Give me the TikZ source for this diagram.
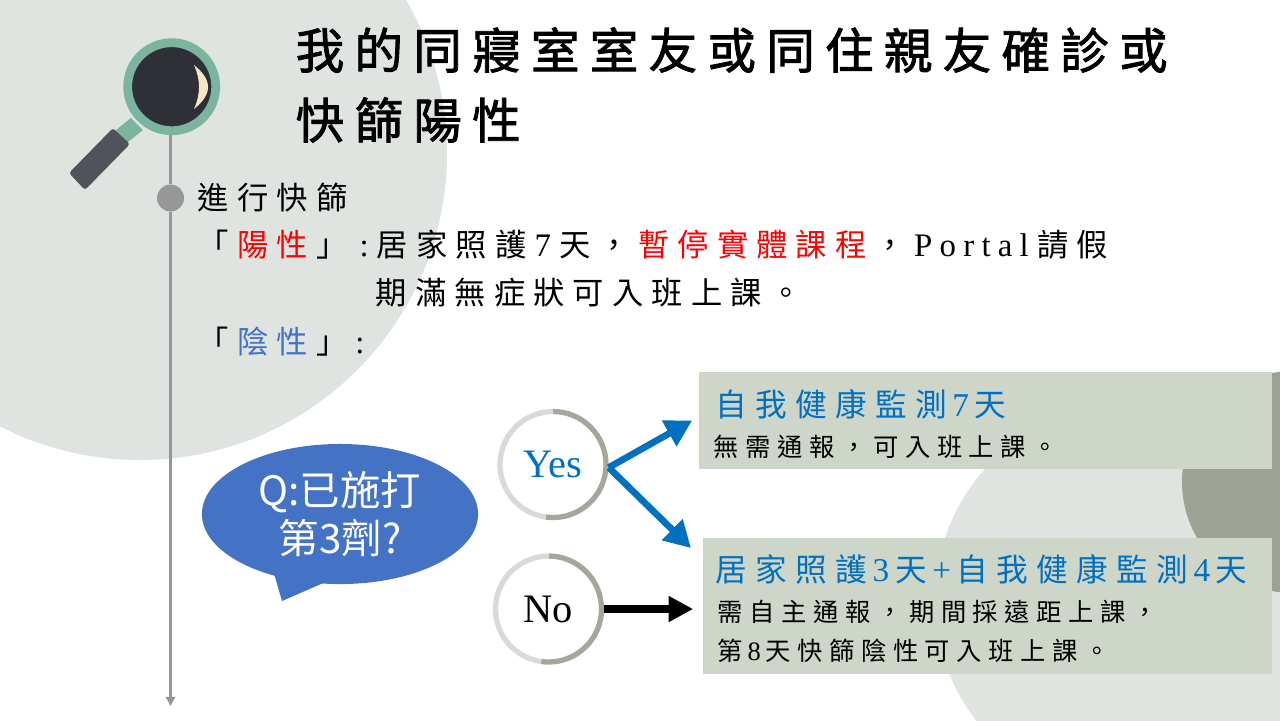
\documentclass[tikz,border=0pt]{standalone}
\usepackage{fontspec}
\usetikzlibrary{arrows.meta,shapes.geometric}
\setmainfont{Noto Sans CJK TC}
\newfontfamily\titlefont[LetterSpace=21.2,Kerning=Off,FakeBold=1.8]{Noto Sans CJK TC}
\newfontfamily\bodyfont[LetterSpace=26,Kerning=Off]{Noto Sans CJK TC}
\newfontfamily\latfont[LetterSpace=22,Scale=1.05]{Liberation Serif}
\newfontfamily\plainserif{Liberation Serif}
\newcommand{\lat}[1]{{\latfont #1}}
\newcommand{\kg}{\hspace{.26em}}
\newcommand{\hg}{\hspace{.18em}}
\definecolor{paleround}{HTML}{DFE4E0}
\definecolor{darkround}{HTML}{9DA294}
\definecolor{boxgreen}{HTML}{CDD6C8}
\definecolor{lensgreen}{HTML}{7BB5A0}
\definecolor{lensdark}{HTML}{2F2F38}
\definecolor{handlegrey}{HTML}{50535A}
\definecolor{cream}{HTML}{F5E6C4}
\definecolor{axisgrey}{HTML}{979797}
\definecolor{bubbleblue}{HTML}{4472C4}
\definecolor{headblue}{HTML}{0070C0}
\definecolor{ringlight}{HTML}{D9D9D9}
\definecolor{ringdark}{HTML}{A3A89D}
\tikzset{
	titleline/.style={anchor=west,inner sep=0pt,font=\titlefont\fontsize{13.8}{16}\selectfont},
	bodyline/.style={anchor=west,inner sep=0pt,font=\bodyfont\fontsize{8.9}{10}\selectfont},
	headline/.style={anchor=west,inner sep=0pt,text=headblue,font=\bodyfont\fontsize{9}{10}\selectfont},
	subline/.style={anchor=west,inner sep=0pt,font=\bodyfont\fontsize{7.2}{9}\selectfont},
	answerbox/.style={fill=boxgreen,inner sep=0pt},
	choice/.style={circle,fill=white,inner sep=0pt,minimum size=1.1cm,font=\plainserif\fontsize{11.5}{13}\selectfont},
	bluearrow/.style={headblue,line width=1.9pt,-{Triangle[length=7.5pt,width=8pt]}},
	blackarrow/.style={black,line width=2.2pt,-{Triangle[length=7pt,width=7pt]}},
}
\begin{document}
\begin{tikzpicture}[x=0.01cm,y=-0.01cm]
	\useasboundingbox (0,0) rectangle (1280,720);
	\fill[white] (0,0) rectangle (1280,720);

	\begin{scope}
		\clip (0,0) rectangle (1280,720);
		\fill[paleround] (140,153) circle [radius=307];
		\fill[paleround] (1132,600) circle [radius=197];
		\fill[darkround] (1293,482) circle [radius=111];
	\end{scope}

	\fill[lensgreen] (131,118) -- (143,130) -- (128,142) -- (116,130) -- cycle;
	\fill[handlegrey,rounded corners=0.8pt] (113,128) -- (130,144) -- (85,190) -- (69,173) -- cycle;
	\node[circle,fill=lensdark,draw=lensgreen,line width=2.5pt,inner sep=0pt,minimum size=0.88cm] (lens) at (171.7,86.7) {};
	\fill[cream] (194,65) .. controls (212.7,80) and (212.7,94) .. (194,109) .. controls (200.7,94) and (200.7,80) .. (194,65);

	\node[circle,fill=axisgrey,inner sep=0pt,minimum size=0.27cm] (dot) at (170.5,198) {};
	\coordinate (axisend) at (170.5,706);
	\draw[axisgrey,line width=0.6pt] (dot.north) -- (dot.north |- lens.south);
	\draw[axisgrey,line width=0.6pt,-{Triangle[length=2.6pt,width=2.6pt]}] (dot.south) -- (axisend);

	\node[titleline] (titlea) at (295,50) {我的同寢室室友或同住親友確診或};
	\node[titleline] (titleb) at (295,120) {快篩陽性};

	\node[bodyline] (test) at (197,198) {進行快篩};
	\node[bodyline] (pos) at (197,245) {「\kg\textcolor{red}{陽性}\kg」};
	\node[bodyline] (posa) at (359,245) {\lat{:}\kg 居家照護\kg\lat{7}\kg 天，\kg\textcolor{red}{暫停實體課程}\kg，\kg\lat{Portal}\kg 請假};
	\node[bodyline] (posb) at (375,293) {期滿無症狀可入班上課。};
	\node[bodyline] (neg) at (197,342) {「\kg\textcolor{bubbleblue}{陰性}\kg」\kg\lat{:}};

	\fill[bubbleblue] (273,570) -- (282,601) -- (330,580) -- cycle;
	\node[ellipse,fill=bubbleblue,text=white,inner sep=0pt,minimum width=2.76cm,minimum height=1.4cm,align=center,font=\fontsize{11.5}{13.6}\selectfont] (question) at (340,514) {Q:已施打\\第3劑?};

	\node[answerbox,minimum width=5.73cm,minimum height=0.97cm] (monitor) at (985.5,420.5) {};
	\node[answerbox,minimum width=5.69cm,minimum height=1.36cm] (homecare) at (987.5,606) {};
	\node[headline] (monitorhead) at (715,404) {自我健康監測\hg\lat{7}\hg 天};
	\node[subline] (monitortext) at (713,447) {無需通報，可入班上課。};
	\node[headline] (homehead) at (715,569) {居家照護\hg\lat{3}\hg 天\hg\lat{+}\hg 自我健康監測\hg\lat{4}\hg 天};
	\node[subline] (hometexta) at (717,612) {需自主通報，期間採遠距上課，};
	\node[subline] (hometextb) at (717,651) {第\hg\lat{8}\hg 天快篩陰性可入班上課。};

	\node[choice,text=headblue] (yes) at (553,464.5) {Yes};
	\node[choice] (no) at (548.5,609) {No};
	\foreach \n in {yes,no}{
		\draw[ringdark,line width=1.5pt] ([shift={(-90:53)}]\n.center) arc [start angle=-90,end angle=98,radius=53];
		\draw[ringlight,line width=1.5pt] ([shift={(98:53)}]\n.center) arc [start angle=98,end angle=270,radius=53];
	}

	\coordinate (homecaretip) at (691,548);
	\draw[bluearrow] ([yshift=-0.03cm]yes.east) -- ([xshift=-0.06cm]monitor.west);
	\draw[bluearrow] ([yshift=-0.03cm]yes.east) -- (homecaretip);
	\draw[blackarrow] (no.east) -- ([xshift=-0.09cm]no.east -| homecare.west);
\end{tikzpicture}
\end{document}
